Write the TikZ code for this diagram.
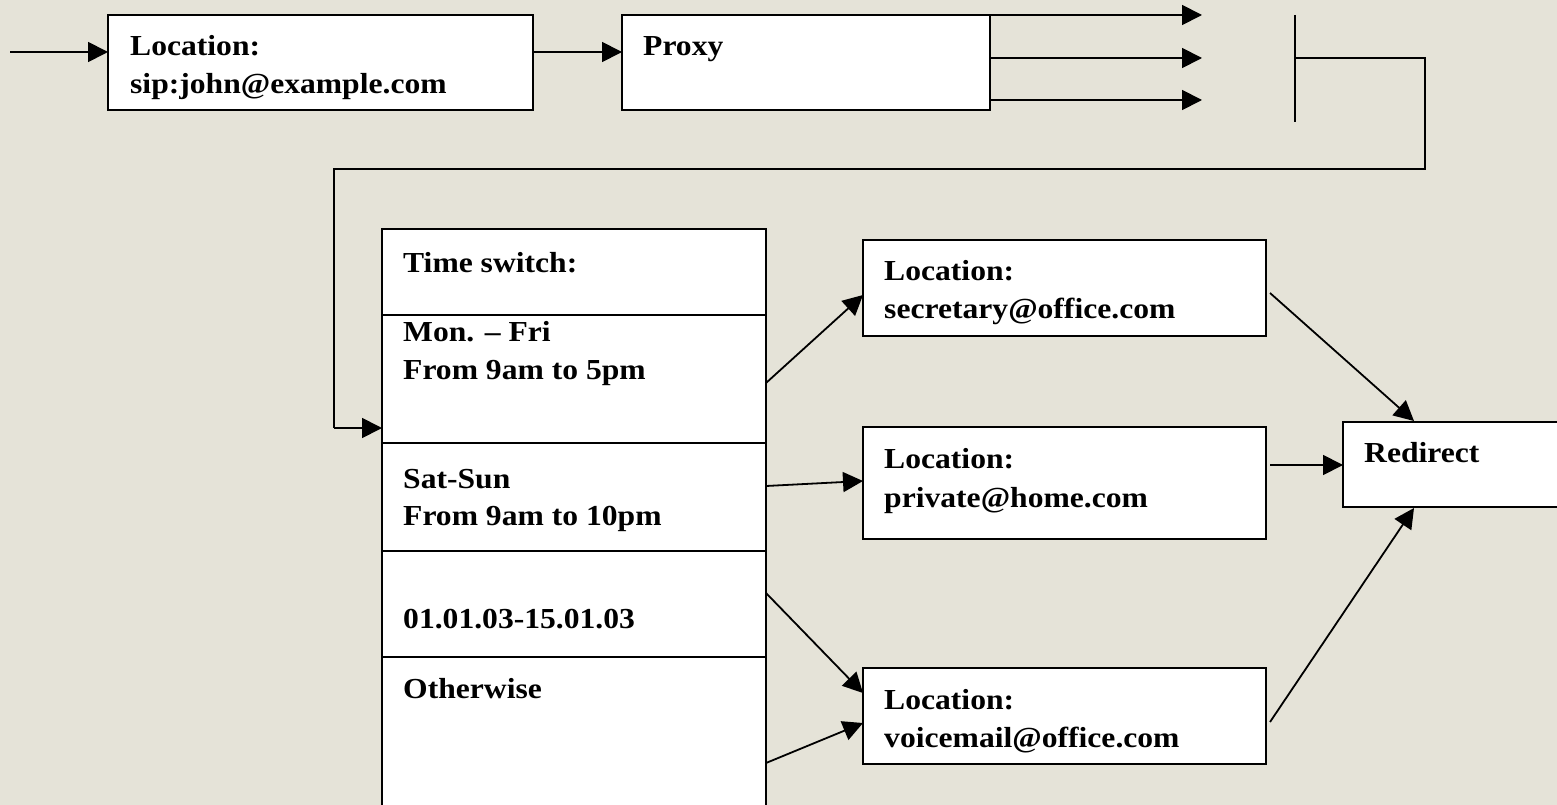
\documentclass[tikz,border=0pt]{standalone}
\usepackage{fontspec}
\setmainfont{Liberation Serif}[FakeStretch=1.09]
\usetikzlibrary{arrows.meta}
\definecolor{bg}{RGB}{229,227,216}
\begin{document}
\begin{tikzpicture}[x=1pt,y=-1pt,
  lbl/.style={anchor=base west, inner sep=0pt, font=\fontsize{29pt}{38pt}\selectfont\bfseries},
  box/.style={draw, fill=white, line width=2pt, inner sep=0pt, outer sep=0pt, anchor=north west},
  openbox/.style={draw=none, fill=white, inner sep=0pt, outer sep=0pt, anchor=north west},
  ln/.style={line width=1.8pt},
  arr/.style={line width=1.8pt, -{Triangle[length=20pt,width=20pt]}}]
\fill[bg] (0,0) rectangle (1557,805);
\useasboundingbox (0,0) rectangle (1557,805);

% top row
\coordinate (start) at (10,52);
\node[box, minimum width=425pt, minimum height=95pt] (b1) at (108,15) {};
\node[lbl] (b1t1) at (130,56) {Location:};
\node[lbl] (b1t2) at (130,94) {sip:john@example.com};
\node[box, minimum width=368pt, minimum height=95pt] (b2) at (622,15) {};
\node[lbl] (b2t) at (643,56) {Proxy};
\draw[arr] (start) -- (b1.west |- start);
\draw[arr] (b1.east |- start) -- (b2.west |- start);

\coordinate (o1) at (1202,15);
\coordinate (o2) at (1202,58);
\coordinate (o3) at (1202,100);
\draw[arr] (b2.east |- o1) -- (o1);
\draw[arr] (b2.east |- o2) -- (o2);
\draw[arr] (b2.east |- o3) -- (o3);

\coordinate (bt) at (1295,15);
\coordinate (bb) at (1295,122);
\coordinate (bm) at (1295,58);
\coordinate (r1) at (1425,58);
\coordinate (r2) at (1425,169);
\coordinate (r3) at (334,169);
\coordinate (r4) at (334,428);
\draw[ln] (bt) -- (bb);

% time switch box
\node[openbox, minimum width=384pt, minimum height=576pt] (ts) at (382,229) {};
\draw[ln, line width=2pt] (ts.south west) -- (ts.north west) -- (ts.north east) -- (ts.south east);
\draw[ln, line width=2pt] (ts.west |- 0,315) -- (ts.east |- 0,315);
\draw[ln, line width=2pt] (ts.west |- 0,443) -- (ts.east |- 0,443);
\draw[ln, line width=2pt] (ts.west |- 0,551) -- (ts.east |- 0,551);
\draw[ln, line width=2pt] (ts.west |- 0,657) -- (ts.east |- 0,657);
\node[lbl] (tst) at (403,272) {Time switch:};
\node[lbl] (c1a) at (403,341) {Mon. – Fri};
\node[lbl] (c1b) at (403,379) {From 9am to 5pm};
\node[lbl] (c2a) at (403,488) {Sat-Sun};
\node[lbl] (c2b) at (403,525) {From 9am to 10pm};
\node[lbl] (c3) at (403,628) {01.01.03-15.01.03};
\node[lbl] (c4) at (403,698) {Otherwise};

\draw[ln] (bm) -- (r1) -- (r2) -- (r3) -- (r4);
\draw[arr] (r4) -- (ts.west |- r4);

% location boxes
\node[box, minimum width=403pt, minimum height=96pt] (sec) at (863,240) {};
\node[lbl] (sect1) at (884,280) {Location:};
\node[lbl] (sect2) at (884,318) {secretary@office.com};
\node[box, minimum width=403pt, minimum height=112pt] (pri) at (863,427) {};
\node[lbl] (prit1) at (884,468) {Location:};
\node[lbl] (prit2) at (884,507) {private@home.com};
\node[box, minimum width=403pt, minimum height=96pt] (voi) at (863,668) {};
\node[lbl] (voit1) at (884,709) {Location:};
\node[lbl] (voit2) at (884,747) {voicemail@office.com};

% redirect box (runs off the right edge)
\node[openbox, minimum width=214pt, minimum height=85pt] (red) at (1343,422) {};
\draw[ln, line width=2pt] (red.north east) -- (red.north west) -- (red.south west) -- (red.south east);
\node[lbl] (redt) at (1364,462) {Redirect};

% connectors from time switch
\draw[arr] (ts.east |- 0,383) -- (sec.west |- 0,295);
\draw[arr] (ts.east |- 0,486) -- (pri.west |- 0,481);
\draw[arr] (ts.east |- 0,593) -- (voi.west |- 0,693);
\draw[arr] (ts.east |- 0,763) -- (voi.west |- 0,723);

% connectors to redirect
\draw[arr] ([xshift=4pt]sec.east |- 0,293) -- (1414,421);
\draw[arr] ([xshift=4pt]pri.east |- 0,465) -- (red.west |- 0,465);
\draw[arr] ([xshift=4pt]voi.east |- 0,722) -- (1414,508);
\end{tikzpicture}
\end{document}
